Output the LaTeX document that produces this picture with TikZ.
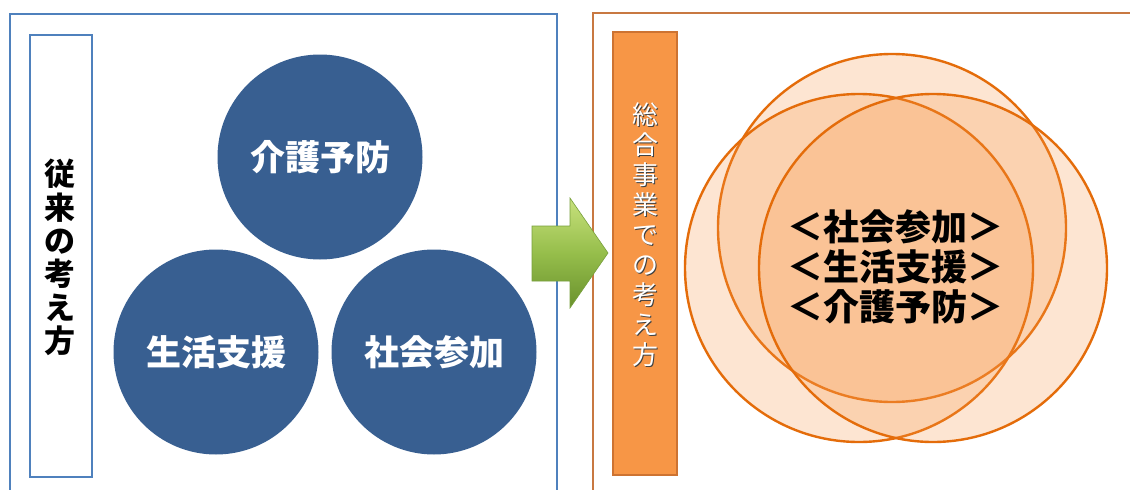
\documentclass[tikz,border=0pt]{standalone}
\usepackage{fontspec}
\newfontfamily\jp{Noto Sans CJK JP}
\definecolor{boxblue}{RGB}{79,129,189}
\definecolor{circblue}{RGB}{56,95,145}
\definecolor{labelorange}{RGB}{247,150,70}
\definecolor{labeledge}{RGB}{205,115,50}
\definecolor{outerorange}{RGB}{200,120,65}
\definecolor{vennstroke}{RGB}{228,108,10}
\definecolor{vennfill}{RGB}{247,150,70}
\definecolor{greentop}{RGB}{200,225,125}
\definecolor{greenmid}{RGB}{150,190,75}
\definecolor{greenbot}{RGB}{105,145,45}
\definecolor{greenedge}{RGB}{120,160,60}
\tikzset{
  framebox/.style={line width=2.4pt},
  bluecirc/.style={circle, fill=circblue, draw=none, minimum size=205pt, inner sep=0pt,
    text=white, font=\jp\bfseries\fontsize{35}{40}\selectfont},
  vennc/.style={circle, draw=vennstroke, line width=2.4pt, fill=vennfill, fill opacity=0.24,
    minimum size=348pt, inner sep=0pt},
  vtextblack/.style={align=center, text=black, font=\jp\bfseries\fontsize{31}{33.3}\selectfont, inner sep=0pt},
  vtextwhite/.style={align=center, font=\jp\fontsize{26}{30}\selectfont, inner sep=0pt},
  centertext/.style={align=center, text=black, font=\jp\bfseries\fontsize{36}{40}\selectfont, inner sep=0pt},
}
\begin{document}
\begin{tikzpicture}[x=1pt,y=-1pt]
\useasboundingbox (0,0) rectangle (1130,490);
\fill[white] (0,0) rectangle (1130,490);
% outer frames
\draw[framebox, draw=boxblue] (10,491) -- (10,14) -- (557,14) -- (557,491);
\draw[framebox, draw=outerorange] (593,491) -- (593,13) -- (1131,13);
% left label box
\node[draw=boxblue, line width=2.8pt, fill=white, minimum width=62pt, minimum height=442pt, inner sep=0pt] (leftlabel) at (61,256) {};
\node[vtextblack] (lefttext) at (60,257.5) {従\\来\\の\\考\\え\\方};
% blue circles
\node[bluecirc] (kaigo) at (320,157) {介護予防};
\node[bluecirc] (seikatsu) at (216,352) {生活支援};
\node[bluecirc] (shakai) at (434,352) {社会参加};
% green arrow
\path[draw=greenedge, line width=0.6pt, top color=greentop, bottom color=greenbot, middle color=greenmid]
  (532,226) -- (570,226) -- (570,198) -- (608,253) -- (570,308) -- (570,281) -- (532,281) -- cycle;
% right label box
\node[draw=labeledge, line width=1.8pt, fill=labelorange, minimum width=64pt, minimum height=443pt, inner sep=0pt] (rightlabel) at (645,253.5) {};
\node[vtextwhite, text=black!75] (righttextshadow) at (646,236) {総\\合\\事\\業\\で\\の\\考\\え\\方};
\node[vtextwhite, text=white] (righttext) at (645,235) {総\\合\\事\\業\\で\\の\\考\\え\\方};
% venn circles
\node[vennc] (vtop) at (892,228) {};
\node[vennc] (vleft) at (859,268) {};
\node[vennc] (vright) at (933,268) {};
\node[centertext] (vtext) at (895,267) {＜社会参加＞\\＜生活支援＞\\＜介護予防＞};
\end{tikzpicture}
\end{document}
